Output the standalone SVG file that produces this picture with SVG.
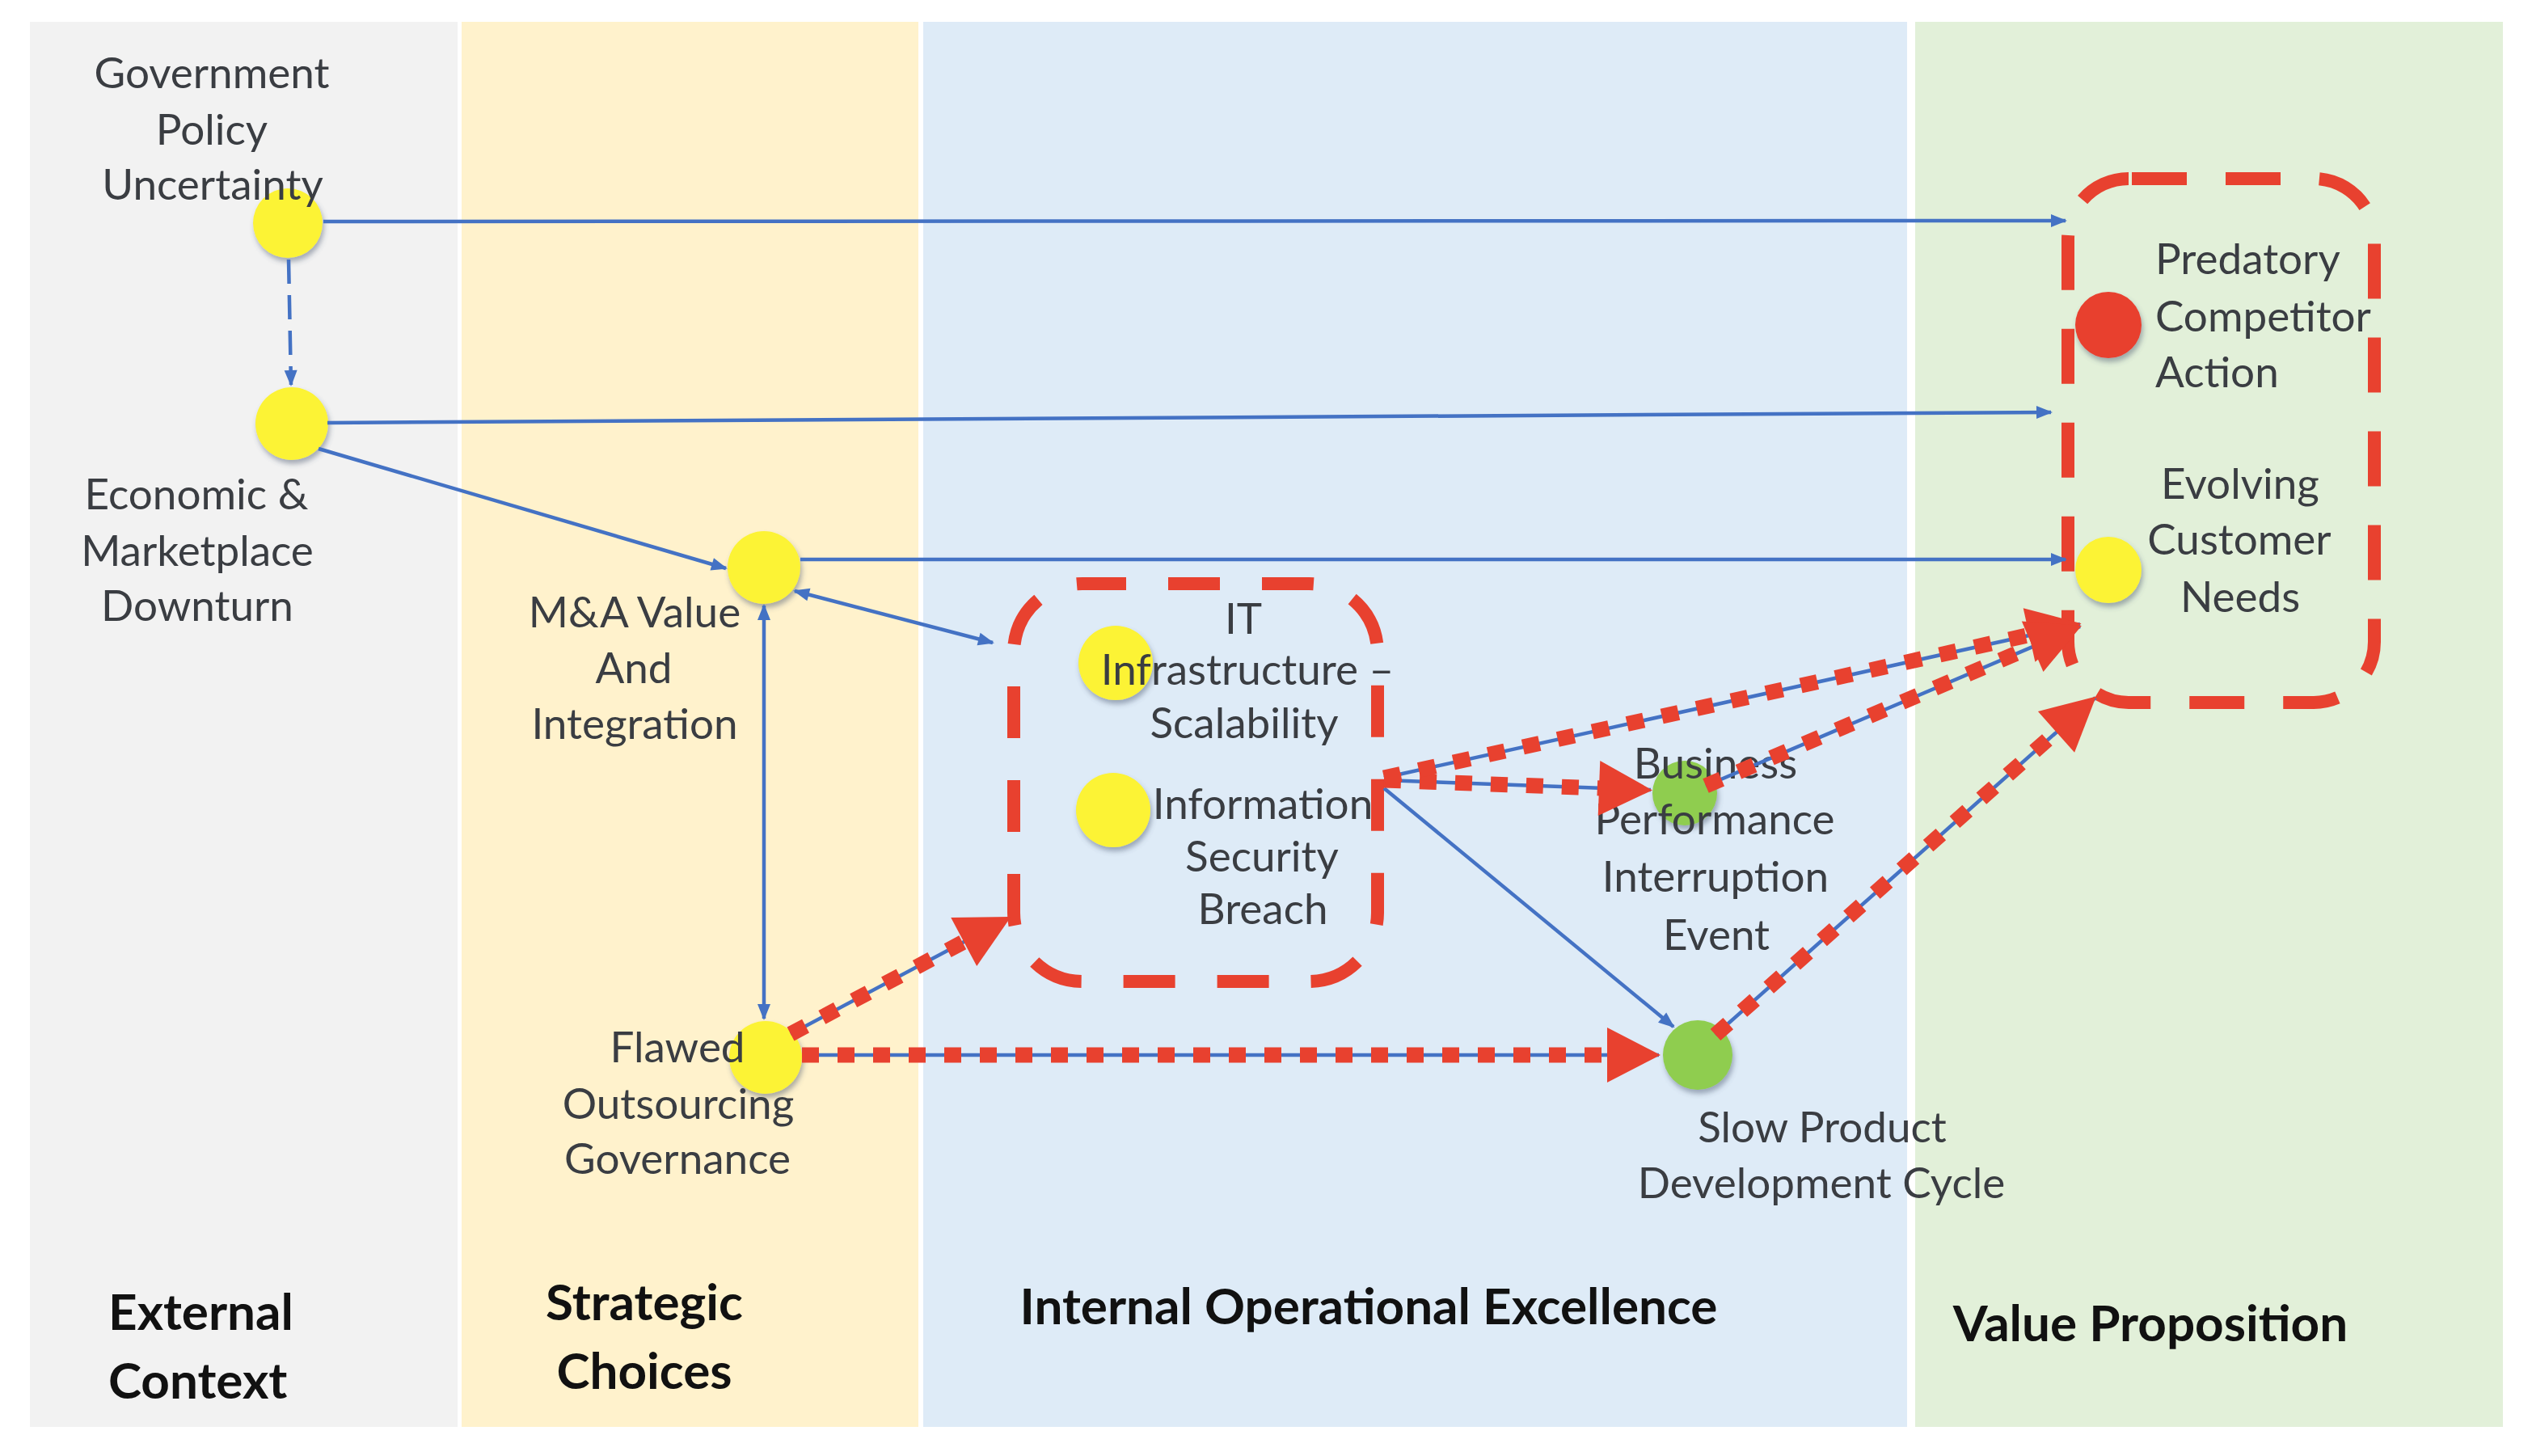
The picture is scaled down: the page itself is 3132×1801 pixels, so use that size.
<svg xmlns="http://www.w3.org/2000/svg" width="3132" height="1801" viewBox="0 0 3132 1801">
<style>
.lbl{font-family:Lato,"Liberation Sans",sans-serif;font-size:53px;fill:#3a3d42;text-anchor:middle}
.lft{text-anchor:start}
.ttl{font-family:Lato,"Liberation Sans",sans-serif;font-size:62px;font-weight:bold;fill:#111}
.blue{fill:none;stroke:#4472c4;stroke-width:4.5}
.reddot{fill:none;stroke:#e8412f;stroke-width:19;stroke-dasharray:21 23}
.redbox{fill:none;stroke:#e8412f;stroke-width:16}
.yel{fill:#fcf334;filter:url(#sh)}
.grn{fill:#8fcd4f;filter:url(#sh)}
.red{fill:#e8412f;filter:url(#sh)}
</style>
<defs>
<filter id="sh" x="-40%" y="-40%" width="180%" height="180%">
<feDropShadow dx="2" dy="5" stdDeviation="3" flood-color="#44546a" flood-opacity="0.45"/>
</filter>
<marker id="ab" markerUnits="userSpaceOnUse" markerWidth="20" markerHeight="16" refX="18" refY="8" orient="auto-start-reverse" overflow="visible">
<path d="M0,0 L20,8 L0,16 z" fill="#4472c4"/>
</marker>
<marker id="ar" markerUnits="userSpaceOnUse" markerWidth="66" markerHeight="68" refX="2" refY="34" orient="auto" overflow="visible">
<path d="M0,0 L66,34 L0,68 z" fill="#e8412f"/>
</marker>
</defs>
<rect width="3132" height="1801" fill="#ffffff"/>
<g id="panels">
<rect x="37" y="27" width="529" height="1738" fill="#f2f2f2"/>
<rect x="571" y="27" width="565" height="1738" fill="#fff2cc"/>
<rect x="1142" y="27" width="1217" height="1738" fill="#deebf7"/>
<rect x="2369" y="27" width="727" height="1738" fill="#e2f0d9"/>
</g>
<g id="titles">
<text class="ttl" x="134" y="1645">External</text>
<text class="ttl" x="134" y="1730">Context</text>
<text class="ttl" x="797" y="1633" text-anchor="middle">Strategic</text>
<text class="ttl" x="797" y="1718" text-anchor="middle">Choices</text>
<text class="ttl" x="1693" y="1638" text-anchor="middle">Internal Operational Excellence</text>
<text class="ttl" x="2660" y="1659" text-anchor="middle">Value Proposition</text>
</g>
<g id="groups">
<rect id="it-group" class="redbox" x="1254" y="722" width="450" height="492" rx="85" stroke-dasharray="64 52" stroke-dashoffset="10"/>
<rect id="value-group" class="redbox" x="2558" y="221" width="379" height="648" rx="75" stroke-dasharray="68 48" stroke-dashoffset="112"/>
</g>
<g id="node-gov">
<circle class="yel" cx="356" cy="276" r="43"/>
<text class="lbl" x="262" y="109">Government</text>
<text class="lbl" x="262" y="179">Policy</text>
<text class="lbl" x="263" y="247">Uncertainty</text>
</g>
<g id="node-econ">
<circle class="yel" cx="361" cy="524" r="45"/>
<text class="lbl" x="243" y="630">Economic &amp;</text>
<text class="lbl" x="244" y="700">Marketplace</text>
<text class="lbl" x="244" y="768">Downturn</text>
</g>
<g id="node-ma">
<circle class="yel" cx="945" cy="702" r="45"/>
<text class="lbl" x="785" y="776">M&amp;A Value</text>
<text class="lbl" x="784" y="845">And</text>
<text class="lbl" x="785" y="914">Integration</text>
</g>
<g id="node-flawed">
<circle class="yel" cx="947" cy="1308" r="45"/>
<text class="lbl" x="838" y="1314">Flawed</text>
<text class="lbl" x="839" y="1384">Outsourcing</text>
<text class="lbl" x="838" y="1452">Governance</text>
</g>
<g id="node-it">
<circle class="yel" cx="1380" cy="820" r="46"/>
<text class="lbl" x="1538" y="784">IT</text>
<text class="lbl" x="1543" y="847">Infrastructure –</text>
<text class="lbl" x="1539" y="913">Scalability</text>
</g>
<g id="node-infosec">
<circle class="yel" cx="1377" cy="1002" r="46"/>
<text class="lbl" x="1562" y="1013">Information</text>
<text class="lbl" x="1561" y="1078">Security</text>
<text class="lbl" x="1562" y="1143">Breach</text>
</g>
<g id="node-business">
<circle class="grn" cx="2084" cy="981" r="40"/>
<text class="lbl" x="2122" y="963">Business</text>
<text class="lbl" x="2121" y="1032">Performance</text>
<text class="lbl" x="2122" y="1103">Interruption</text>
<text class="lbl" x="2123" y="1175">Event</text>
</g>
<g id="node-slow">
<circle class="grn" cx="2100" cy="1305" r="43"/>
<text class="lbl" x="2254" y="1413">Slow Product</text>
<text class="lbl" x="2253" y="1482">Development Cycle</text>
</g>
<g id="node-predatory">
<circle class="red" cx="2608" cy="402" r="41"/>
<text class="lbl lft" x="2666" y="339">Predatory</text>
<text class="lbl lft" x="2666" y="410">Competitor</text>
<text class="lbl lft" x="2666" y="479">Action</text>
</g>
<g id="node-evolving">
<circle class="yel" cx="2608" cy="705" r="41"/>
<text class="lbl" x="2771" y="617">Evolving</text>
<text class="lbl" x="2770" y="686">Customer</text>
<text class="lbl" x="2771" y="757">Needs</text>
</g>
<g id="connectors">
<line class="blue" x1="400" y1="274" x2="2555" y2="273" marker-end="url(#ab)"/>
<line class="blue" x1="405" y1="523" x2="2537" y2="510" marker-end="url(#ab)"/>
<line class="blue" x1="394" y1="555" x2="898" y2="703" marker-end="url(#ab)"/>
<line class="blue" x1="990" y1="692" x2="2555" y2="692" marker-end="url(#ab)"/>
<line class="blue" x1="983" y1="731" x2="1228" y2="795" marker-start="url(#ab)" marker-end="url(#ab)"/>
<line class="blue" x1="945" y1="749" x2="945" y2="1260" marker-start="url(#ab)" marker-end="url(#ab)"/>
<line class="blue" x1="357" y1="321" x2="360" y2="476" stroke-dasharray="30 14" marker-end="url(#ab)"/>
<line class="blue" x1="1712" y1="975" x2="2070" y2="1270" stroke-width="3.5" marker-end="url(#ab)"/>
<line class="blue" x1="978" y1="1279" x2="1247" y2="1136"/>
<line class="blue" x1="992" y1="1305" x2="2052" y2="1305"/>
<line class="blue" x1="1712" y1="965" x2="2042" y2="977"/>
<line class="blue" x1="1712" y1="962" x2="2573" y2="772"/>
<line class="blue" x1="2110" y1="972" x2="2573" y2="775"/>
<line class="blue" x1="2122" y1="1280" x2="2592" y2="863"/>
<path class="reddot" d="M978,1279 L1194,1164" marker-end="url(#ar)"/>
<path class="reddot" d="M992,1305 L1990,1305" marker-end="url(#ar)"/>
<path class="reddot" d="M1712,965 L1980,975" marker-end="url(#ar)"/>
<path class="reddot" d="M1712,962 L2512,785" marker-end="url(#ar)"/>
<path class="reddot" d="M2110,972 L2516,799" marker-end="url(#ar)"/>
<path class="reddot" d="M2122,1280 L2545,904" marker-end="url(#ar)"/>
</g>
</svg>
